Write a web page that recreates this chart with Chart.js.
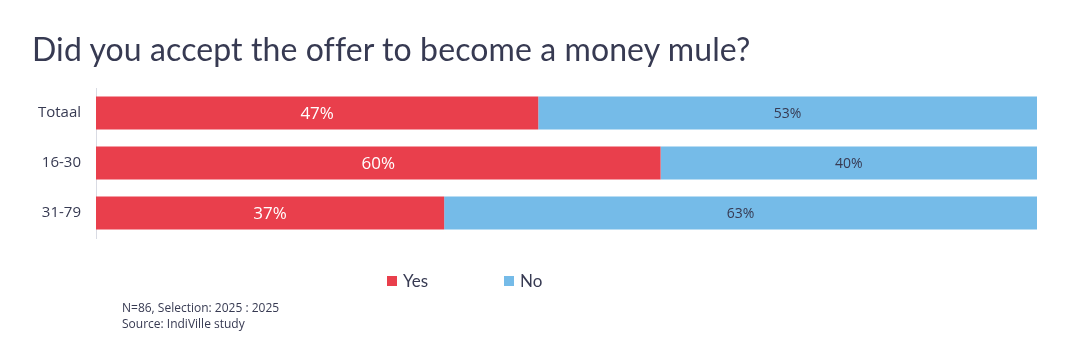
<!DOCTYPE html>
<html>
<head>
<meta charset="utf-8">
<script src="https://cdn.jsdelivr.net/npm/chart.js@4/dist/chart.umd.min.js"></script>
<style>
  html, body { margin: 0; padding: 0; background: #fff; }
  #wrap { position: relative; width: 1067px; height: 353px; overflow: hidden; }
  #chart { position: absolute; left: 0; top: 0; }
  .title { position: absolute; left: 32px; top: 29px; font: 32px Lato, sans-serif; letter-spacing: 0.1px; color: #373a52; white-space: nowrap; }
  .legend { position: absolute; top: 270px; left: 387px; font: 17px Lato, sans-serif; color: #373a52; display: flex; }
  .legend .item { display: flex; align-items: center; margin-right: 76px; }
  .legend .box { width: 10px; height: 10px; margin-right: 6px; }
  .note { position: absolute; left: 122px; top: 300px; font: 12px "Open Sans", sans-serif; color: #373a52; line-height: 16px; }
</style>
</head>
<body>
<div id="wrap">
  <canvas id="chart" width="1067" height="353"></canvas>
  <div class="title">Did you accept the offer to become a money mule?</div>
  <div class="legend" id="legend"></div>
  <div class="note">N=86, Selection: 2025 : 2025<br>Source: IndiVille study</div>
</div>
<script>
const categories = ['Totaal', '16-30', '31-79'];
const yesValues = [47, 60, 37];
const noValues = [53, 40, 63];
const seriesNames = ['Yes', 'No'];

const RED = '#e93f4c';
const BLUE = '#75bbe8';
const TEXT = '#373a52';

// draws the % labels in the middle of each bar segment
const barLabels = {
  id: 'barLabels',
  afterDatasetsDraw(chart) {
    const ctx = chart.ctx;
    ctx.save();
    ctx.textAlign = 'center';
    ctx.textBaseline = 'middle';
    chart.data.datasets.forEach((ds, di) => {
      const meta = chart.getDatasetMeta(di);
      ctx.fillStyle = ds.labelColor;
      ctx.font = ds.labelFont;
      meta.data.forEach((bar, i) => {
        const p = bar.getProps(['x', 'y', 'base'], true);
        ctx.fillText(ds.data[i] + '%', (p.x + p.base) / 2, p.y + 1);
      });
    });
    ctx.restore();
  }
};

const chart = new Chart(document.getElementById('chart'), {
  type: 'bar',
  data: {
    labels: categories,
    datasets: [
      { label: seriesNames[0], data: yesValues, backgroundColor: RED, labelColor: '#fff', labelFont: '17px "Open Sans", sans-serif' },
      { label: seriesNames[1], data: noValues, backgroundColor: BLUE, labelColor: TEXT, labelFont: '14px "Open Sans", sans-serif' }
    ]
  },
  options: {
    indexAxis: 'y',
    responsive: false,
    animation: false,
    layout: { padding: { top: 88, bottom: 115, right: 30, left: 0 } },
    datasets: { bar: { categoryPercentage: 1, barPercentage: 0.66, borderWidth: 0 } },
    plugins: { legend: { display: false }, tooltip: { enabled: false } },
    scales: {
      x: { stacked: true, min: 0, max: 100, display: false },
      y: {
        stacked: true,
        afterFit: s => { s.width = 96; },
        grid: { display: false, drawTicks: false },
        border: { display: true, color: '#d9dbe3', width: 1 },
        ticks: { padding: 15, color: TEXT, font: { family: '"Open Sans", sans-serif', size: 15 } }
      }
    }
  },
  plugins: [barLabels]
});

const legend = document.getElementById('legend');
chart.data.datasets.forEach(ds => {
  const item = document.createElement('div');
  item.className = 'item';
  item.innerHTML = `<span class="box" style="background:${ds.backgroundColor}"></span>${ds.label}`;
  legend.appendChild(item);
});
</script>
</body>
</html>
